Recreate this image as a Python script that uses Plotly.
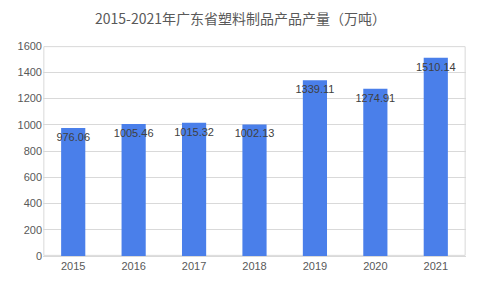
import plotly.graph_objects as go

years = ["2015", "2016", "2017", "2018", "2019", "2020", "2021"]
values = [976.06, 1005.46, 1015.32, 1002.13, 1339.11, 1274.91, 1510.14]
labels = ["976.06", "1005.46", "1015.32", "1002.13", "1339.11", "1274.91", "1510.14"]
title = "2015-2021年广东省塑料制品产品产量（万吨）"

fig = go.Figure(go.Bar(
    x=years, y=values, text=labels,
    textposition="inside", insidetextanchor="end", textangle=0,
    constraintext="none",
    textfont=dict(color="#404040", size=11, family="Liberation Sans"),
    marker=dict(color="#4A7FEA", line=dict(width=0)),
    width=0.4,
))

fig.update_layout(
    width=481, height=289,
    margin=dict(l=43, r=15, t=46, b=33),
    paper_bgcolor="white", plot_bgcolor="white",
    title=dict(text=title, x=0.5, xanchor="center", y=0.935, yanchor="middle",
               font=dict(family="Noto Sans CJK SC", size=14, color="#595959")),
    showlegend=False,
    uniformtext=dict(mode="show", minsize=8),
    shapes=[dict(type="rect", xref="paper", yref="paper", x0=0.002, x1=0.998,
                 y0=0.003, y1=0.997, line=dict(color="#D9D9D9", width=1),
                 layer="below")],
)
fig.update_xaxes(showgrid=False, showline=True, linecolor="#D9D9D9", ticks="",
                 tickfont=dict(family="Liberation Sans", size=11, color="#595959"))
fig.update_yaxes(range=[0, 1600], dtick=200, showgrid=True, gridcolor="#D9D9D9",
                 zeroline=False, ticks="", tickformat="d",
                 tickfont=dict(family="Liberation Sans", size=11, color="#595959"))
fig.write_html("out.html")
